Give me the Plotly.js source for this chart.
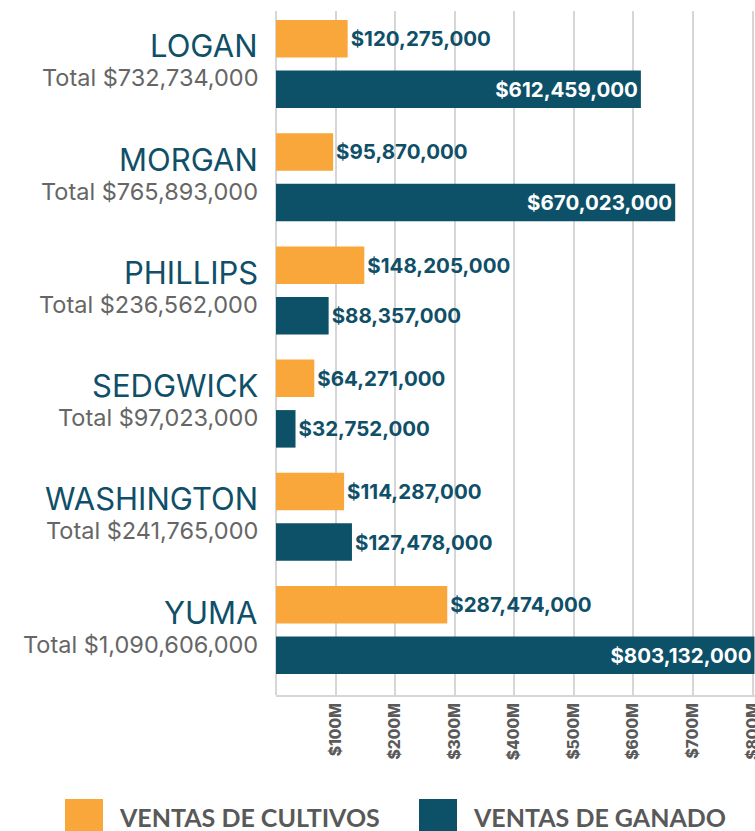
<!DOCTYPE html>
<html>
<head>
<meta charset="utf-8">
<script src="https://cdn.plot.ly/plotly-3.0.1.min.js"></script>
<style>
  html, body { margin: 0; padding: 0; background: #ffffff; }
  #chart { width: 755px; height: 831px; }
</style>
</head>
<body>
<div id="chart"></div>
<script>
// ---- data ----
const counties = ['LOGAN', 'MORGAN', 'PHILLIPS', 'SEDGWICK', 'WASHINGTON', 'YUMA'];
const totals = [732734000, 765893000, 236562000, 97023000, 241765000, 1090606000];
const cropSales = [120275000, 95870000, 148205000, 64271000, 114287000, 287474000];
const livestockSales = [612459000, 670023000, 88357000, 32752000, 127478000, 803132000];
const seriesNames = ['VENTAS DE CULTIVOS', 'VENTAS DE GANADO'];
const tickValues = [100e6, 200e6, 300e6, 400e6, 500e6, 600e6, 700e6, 800e6];
const tickLabels = ['$100M', '$200M', '$300M', '$400M', '$500M', '$600M', '$700M', '$800M'];

// ---- styles ----
const ORANGE = '#F9A73A';
const TEAL = '#0D5169';
const LABEL_TEAL = '#0F4F68';
const GRAY = '#666666';
const GRID = '#D6D6D6';
const FONT = 'Inter, Lato, sans-serif';
const LEGEND_FONT = 'Lato, sans-serif';

const W = 755, H = 831;
const M = {l: 276, r: 0, t: 11, b: 136};
const plotW = W - M.l - M.r, plotH = H - M.t - M.b;
const px2x = px => (px - M.l) / plotW;
const py2y = py => (H - M.b - py) / plotH;

const fmt = v => '$' + v.toLocaleString('en-US');

const crops = {
  type: 'bar', orientation: 'h', name: seriesNames[0],
  y: counties, x: cropSales,
  marker: {color: ORANGE},
  text: cropSales.map(fmt), textposition: 'outside',
  outsidetextfont: {family: FONT, size: 20.5, color: LABEL_TEAL, weight: 700},
  cliponaxis: false, constraintext: 'none', hoverinfo: 'skip'
};
const livestock = {
  type: 'bar', orientation: 'h', name: seriesNames[1],
  y: counties, x: livestockSales,
  marker: {color: TEAL},
  text: livestockSales.map(fmt),
  textposition: livestockSales.map(v => v > 300e6 ? 'inside' : 'outside'),
  insidetextanchor: 'end',
  insidetextfont: {family: FONT, size: 20.5, color: '#FFFFFF', weight: 700},
  outsidetextfont: {family: FONT, size: 20.5, color: LABEL_TEAL, weight: 700},
  cliponaxis: false, constraintext: 'none', hoverinfo: 'skip'
};

const annotations = [];
counties.forEach((c, i) => {
  annotations.push({
    xref: 'paper', yref: 'y', x: 0, y: c, xanchor: 'right', yanchor: 'middle',
    xshift: -16, yshift: 18, showarrow: false, text: c,
    font: {family: FONT, size: 31, color: LABEL_TEAL}
  });
  annotations.push({
    xref: 'paper', yref: 'y', x: 0, y: c, xanchor: 'right', yanchor: 'middle',
    xshift: -16, yshift: -14, showarrow: false, text: 'Total ' + fmt(totals[i]),
    font: {family: FONT, size: 23.5, color: GRAY}
  });
});

// legend (drawn manually for large square swatches)
const legendItems = [
  {sx0: 65, sx1: 103, tx: 117, color: ORANGE, label: seriesNames[0]},
  {sx0: 419, sx1: 457, tx: 471, color: TEAL, label: seriesNames[1]}
];
const shapes = [];
legendItems.forEach(it => {
  shapes.push({
    type: 'rect', xref: 'paper', yref: 'paper',
    x0: px2x(it.sx0), x1: px2x(it.sx1), y0: py2y(831), y1: py2y(799),
    fillcolor: it.color, line: {width: 0}
  });
  annotations.push({
    xref: 'paper', yref: 'paper', x: px2x(it.tx), y: py2y(817),
    xanchor: 'left', yanchor: 'middle', showarrow: false, text: it.label,
    font: {family: LEGEND_FONT, size: 25, color: '#595959', weight: 700}
  });
});

const layout = {
  width: W, height: H,
  margin: M,
  paper_bgcolor: '#FFFFFF', plot_bgcolor: '#FFFFFF',
  barmode: 'group', bargap: 0.108, bargroupgap: 0.257,
  showlegend: false,
  font: {family: FONT},
  xaxis: {
    range: [0, 804e6],
    tickvals: tickValues, ticktext: tickLabels,
    tickangle: -90,
    ticklabeloverflow: 'allow',
    tickfont: {family: FONT, size: 15.5, color: '#5A5A5A', weight: 800},
    showgrid: true, gridcolor: GRID, gridwidth: 2,
    zeroline: true, zerolinecolor: GRID, zerolinewidth: 2,
    showline: true, linecolor: GRID, linewidth: 2,
    ticks: '', fixedrange: true
  },
  yaxis: {
    type: 'category', categoryorder: 'array', categoryarray: counties,
    range: [5.574, -0.468],
    showticklabels: false, showgrid: false, zeroline: false, showline: false,
    ticks: '', fixedrange: true
  },
  annotations: annotations,
  shapes: shapes
};

Plotly.newPlot('chart', [crops, livestock], layout, {displayModeBar: false, staticPlot: true});
</script>
</body>
</html>
